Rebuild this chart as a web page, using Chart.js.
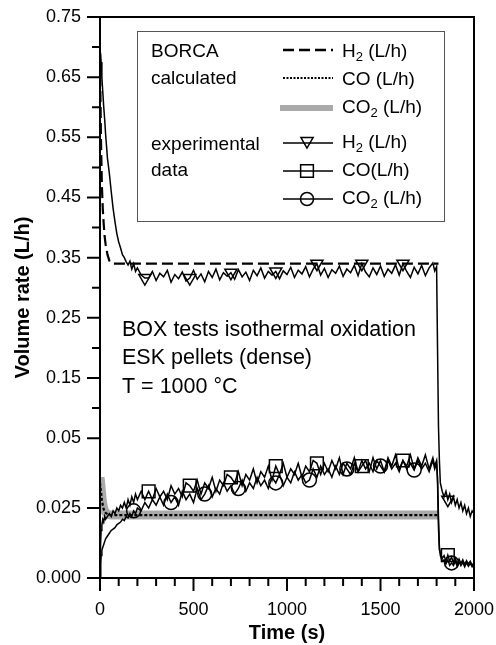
<!DOCTYPE html>
<html lang="en">
<head>
<meta charset="UTF-8">
<title>BOX tests - volume rate</title>
<script src="https://cdn.jsdelivr.net/npm/chart.js"></script>
<style>
  body { margin: 0; background: #fff; }
  canvas { display: block; }
</style>
</head>
<body>
<canvas id="rateChart" width="496" height="645"></canvas>
<script>
// measured points (time in s, rates in L/h)
const expTime = [
  0, 3, 6, 10, 15, 20, 25, 30, 40, 50, 60, 70, 80, 90, 100, 110, 120, 130, 140, 150, 160, 170, 180, 190, 200,
  220, 240, 260, 280, 300, 320, 340, 360, 380, 400, 420, 440, 460, 480, 500, 520, 540, 560, 580, 600,
  620, 640, 660, 680, 700, 720, 740, 760, 780, 800, 820, 840, 860, 880, 900, 920, 940, 960, 980, 1000,
  1020, 1040, 1060, 1080, 1100, 1120, 1140, 1160, 1180, 1200, 1220, 1240, 1260, 1280, 1300, 1320, 1340, 1360, 1380, 1400,
  1420, 1440, 1460, 1480, 1500, 1520, 1540, 1560, 1580, 1600, 1620, 1640, 1660, 1680, 1700, 1720, 1740, 1760, 1780,
  1790, 1800, 1805, 1810, 1815, 1820, 1830, 1840, 1850, 1860, 1870, 1880, 1890, 1900, 1910, 1920, 1930, 1940, 1950, 1960, 1970, 1980, 1990, 2000
];
const expH2 = [
  0.66, 0.69, 0.675, 0.65, 0.625, 0.60, 0.58, 0.555, 0.515, 0.49, 0.46, 0.432, 0.41, 0.39, 0.376, 0.366, 0.355, 0.35, 0.343, 0.338, 0.344, 0.331, 0.340, 0.327, 0.333,
  0.321, 0.316, 0.316, 0.327, 0.312, 0.324, 0.318, 0.329, 0.309, 0.322, 0.315, 0.326, 0.311, 0.316, 0.329, 0.314, 0.323, 0.310, 0.327, 0.317,
  0.331, 0.313, 0.325, 0.319, 0.325, 0.314, 0.330, 0.318, 0.326, 0.312, 0.329, 0.320, 0.333, 0.316, 0.327, 0.321, 0.327, 0.315, 0.328, 0.322,
  0.334, 0.317, 0.329, 0.323, 0.335, 0.318, 0.331, 0.340, 0.321, 0.332, 0.317, 0.330, 0.324, 0.336, 0.319, 0.331, 0.325, 0.337, 0.320, 0.340,
  0.326, 0.318, 0.333, 0.322, 0.336, 0.319, 0.331, 0.324, 0.338, 0.321, 0.340, 0.327, 0.317, 0.334, 0.323, 0.337, 0.320, 0.333, 0.341,
  0.328, 0.335, 0.20, 0.07, 0.042, 0.034, 0.031, 0.029, 0.031, 0.028, 0.030, 0.027, 0.029, 0.026, 0.028, 0.025, 0.027, 0.024, 0.026, 0.023, 0.025, 0.022, 0.024, 0.023
];
const expCO = [
  0.000, 0.012, 0.017, 0.019, 0.021, 0.020, 0.022, 0.021, 0.022, 0.023, 0.022, 0.024, 0.023, 0.025, 0.024, 0.026, 0.025, 0.027, 0.025, 0.028, 0.026, 0.029, 0.027, 0.030, 0.028,
  0.031, 0.028, 0.031, 0.028, 0.032, 0.029, 0.031, 0.028, 0.033, 0.030, 0.032, 0.029, 0.034, 0.033, 0.031, 0.035, 0.030, 0.034, 0.032, 0.036,
  0.031, 0.035, 0.033, 0.037, 0.036, 0.034, 0.038, 0.033, 0.037, 0.035, 0.039, 0.034, 0.038, 0.036, 0.040, 0.035, 0.040, 0.037, 0.041, 0.036,
  0.039, 0.037, 0.041, 0.036, 0.040, 0.038, 0.042, 0.041, 0.037, 0.041, 0.038, 0.042, 0.039, 0.043, 0.037, 0.041, 0.039, 0.043, 0.038, 0.040,
  0.042, 0.038, 0.043, 0.039, 0.042, 0.038, 0.043, 0.040, 0.044, 0.039, 0.042, 0.040, 0.044, 0.039, 0.043, 0.040, 0.044, 0.039, 0.043,
  0.040, 0.042, 0.034, 0.018, 0.010, 0.009, 0.007, 0.008, 0.006, 0.0082, 0.006, 0.0075, 0.0055, 0.007, 0.005, 0.0068, 0.0052, 0.0065, 0.0048, 0.0062, 0.005, 0.006, 0.0045, 0.0055
];
const expCO2 = [
  0.000, 0.005, 0.008, 0.010, 0.011, 0.012, 0.013, 0.014, 0.015, 0.016, 0.017, 0.0175, 0.018, 0.019, 0.0195, 0.020, 0.021, 0.0205, 0.022, 0.0215, 0.023, 0.022, 0.024, 0.023, 0.025,
  0.024, 0.027, 0.025, 0.028, 0.026, 0.029, 0.026, 0.030, 0.027, 0.029, 0.026, 0.031, 0.028, 0.030, 0.027, 0.032, 0.028, 0.030, 0.033, 0.029,
  0.032, 0.030, 0.034, 0.031, 0.033, 0.030, 0.032, 0.035, 0.031, 0.034, 0.032, 0.036, 0.033, 0.035, 0.032, 0.036, 0.034, 0.037, 0.033, 0.036,
  0.034, 0.038, 0.035, 0.037, 0.034, 0.035, 0.039, 0.036, 0.040, 0.037, 0.039, 0.036, 0.040, 0.037, 0.041, 0.039, 0.037, 0.041, 0.038, 0.042,
  0.039, 0.041, 0.038, 0.042, 0.040, 0.038, 0.042, 0.039, 0.041, 0.038, 0.042, 0.039, 0.041, 0.0386, 0.042, 0.039, 0.041, 0.038, 0.042,
  0.039, 0.041, 0.036, 0.022, 0.011, 0.008, 0.006, 0.0065, 0.005, 0.0065, 0.0045, 0.0054, 0.0045, 0.006, 0.0042, 0.0058, 0.0044, 0.0056, 0.004, 0.0055, 0.0042, 0.0052, 0.004, 0.005
];
// times where the symbols are drawn on the measured curves
const h2Marks = [240, 480, 700, 940, 1160, 1400, 1620, 1860];
const coMarks = [260, 480, 700, 940, 1160, 1400, 1620, 1860];
const co2Marks = [180, 380, 560, 740, 940, 1120, 1320, 1500, 1680, 1880];

// BORCA calculation
const calcTime = [0, 5, 10, 15, 20, 25, 30, 40, 50, 60, 70, 80, 100, 300, 600, 1000, 1400, 1810];
const calcH2 = [0.68, 0.55, 0.47, 0.43, 0.405, 0.385, 0.372, 0.355, 0.345, 0.341, 0.340, 0.340, 0.340, 0.340, 0.340, 0.340, 0.340, 0.340];
const calcCO = [0.034, 0.031, 0.028, 0.026, 0.0245, 0.0238, 0.0233, 0.0228, 0.0226, 0.0225, 0.0225, 0.0225, 0.0225, 0.0225, 0.0225, 0.0225, 0.0225, 0.0225];
const calcCO2 = [0.036, 0.033, 0.029, 0.0265, 0.025, 0.024, 0.0235, 0.0229, 0.0226, 0.0225, 0.0225, 0.0225, 0.0225, 0.0225, 0.0225, 0.0225, 0.0225, 0.0225];

// axes
const xTickValues = [0, 500, 1000, 1500, 2000];
const xMinorValues = [100, 200, 300, 400, 600, 700, 800, 900, 1100, 1200, 1300, 1400, 1600, 1700, 1800, 1900];
const yTickValues = [0, 0.025, 0.05, 0.15, 0.25, 0.35, 0.45, 0.55, 0.65, 0.75];
const yTickLabels = ['0.000', '0.025', '0.05', '0.15', '0.25', '0.35', '0.45', '0.55', '0.65', '0.75'];
const yMinorValues = [0.1, 0.2, 0.3, 0.4, 0.5, 0.6, 0.7];

const legendCalcLabels = ['H_2 (L/h)', 'CO (L/h)', 'CO_2 (L/h)'];
const legendExpLabels = ['H_2 (L/h)', 'CO(L/h)', 'CO_2 (L/h)'];
const noteLines = ['BOX tests isothermal oxidation', 'ESK pellets (dense)', 'T = 1000 °C'];

// the y axis is broken at 0.05: the part below is drawn stretched
const BREAK = 0.05;
const STRETCH = 4.65;
function toAxis(v) {
  return v <= BREAK ? v * STRETCH : BREAK * STRETCH + (v - BREAK);
}

const FONT = "'Liberation Sans', Arial, Helvetica, sans-serif";
Chart.defaults.font.family = FONT;
Chart.defaults.color = '#000';

function series(times, values) {
  return times.map((t, i) => ({ x: t, y: toAxis(values[i]) }));
}
function markerRadius(times, marks, r) {
  return ctx => marks.includes(times[ctx.dataIndex]) ? r : 0;
}

// text with "_2" style subscripts
function drawRich(ctx, text, x, y, size) {
  text.split(/(_\d)/).forEach(part => {
    if (!part) return;
    if (part[0] === '_') {
      ctx.font = Math.round(size * 0.68) + 'px ' + FONT;
      ctx.fillText(part.slice(1), x, y + size * 0.3);
      x += ctx.measureText(part.slice(1)).width;
    } else {
      ctx.font = size + 'px ' + FONT;
      ctx.fillText(part, x, y);
      x += ctx.measureText(part).width;
    }
  });
}

const framePlugin = {
  id: 'frame',
  afterDatasetsDraw(chart) {
    const { ctx, chartArea: a, scales: { x, y } } = chart;
    ctx.save();
    ctx.strokeStyle = '#000';
    ctx.lineWidth = 2;
    ctx.strokeRect(a.left, a.top, a.right - a.left, a.bottom - a.top);
    ctx.beginPath();
    xTickValues.forEach(v => { const px = x.getPixelForValue(v); ctx.moveTo(px, a.bottom); ctx.lineTo(px, a.bottom + 13); });
    xMinorValues.forEach(v => { const px = x.getPixelForValue(v); ctx.moveTo(px, a.bottom); ctx.lineTo(px, a.bottom + 8); });
    yTickValues.forEach(v => { const py = y.getPixelForValue(toAxis(v)); ctx.moveTo(a.left, py); ctx.lineTo(a.left - 13, py); });
    yMinorValues.forEach(v => { const py = y.getPixelForValue(toAxis(v)); ctx.moveTo(a.left, py); ctx.lineTo(a.left - 8, py); });
    ctx.stroke();
    ctx.restore();
  }
};

const boxLegendPlugin = {
  id: 'boxLegend',
  afterDraw(chart) {
    const ctx = chart.ctx;
    ctx.save();
    ctx.strokeStyle = '#555';
    ctx.lineWidth = 1;
    ctx.strokeRect(137.5, 31.5, 307, 190);

    ctx.fillStyle = '#000';
    ctx.textBaseline = 'middle';
    ctx.font = '19px ' + FONT;
    ctx.fillText('BORCA', 151, 52);
    ctx.fillText('calculated', 151, 79);
    ctx.fillText('experimental', 151, 145);
    ctx.fillText('data', 151, 171);

    const calcRows = [52, 80, 108];
    const expRows = [143, 171, 199];
    calcRows.forEach((ry, i) => drawRich(ctx, legendCalcLabels[i], 342, ry, 19));
    expRows.forEach((ry, i) => drawRich(ctx, legendExpLabels[i], 342, ry, 19));

    // calculated samples
    ctx.strokeStyle = '#000';
    ctx.lineWidth = 2.4;
    ctx.setLineDash([11, 5]);
    ctx.beginPath(); ctx.moveTo(283, 50); ctx.lineTo(333, 50); ctx.stroke();
    ctx.lineWidth = 2;
    ctx.setLineDash([2, 1.5]);
    ctx.beginPath(); ctx.moveTo(283, 78); ctx.lineTo(333, 78); ctx.stroke();
    ctx.setLineDash([]);
    ctx.strokeStyle = '#aaaaaa';
    ctx.lineWidth = 6;
    ctx.beginPath(); ctx.moveTo(280, 108); ctx.lineTo(333, 108); ctx.stroke();

    // measured samples
    ctx.strokeStyle = '#000';
    ctx.lineWidth = 1.5;
    expRows.forEach(ry => { ctx.beginPath(); ctx.moveTo(283, ry); ctx.lineTo(333, ry); ctx.stroke(); });
    ctx.fillStyle = 'rgba(0,0,0,0)';
    Chart.helpers.drawPoint(ctx, { pointStyle: 'triangle', radius: 7, rotation: 180, borderWidth: 1.5 }, 307, 141);
    Chart.helpers.drawPoint(ctx, { pointStyle: 'rect', radius: 9, rotation: 0, borderWidth: 1.5 }, 307, 171);
    Chart.helpers.drawPoint(ctx, { pointStyle: 'circle', radius: 6.5, rotation: 0, borderWidth: 1.5 }, 307, 199);

    // test description
    ctx.fillStyle = '#000';
    ctx.font = '21.5px ' + FONT;
    noteLines.forEach((line, i) => ctx.fillText(line, 122, 330 + i * 28.5));
    ctx.restore();
  }
};

const expStyle = {
  borderColor: '#000',
  borderWidth: 1.5,
  pointBorderColor: '#000',
  pointBackgroundColor: 'rgba(0,0,0,0)',
  pointBorderWidth: 1.5,
  tension: 0
};

new Chart(document.getElementById('rateChart'), {
  type: 'line',
  data: {
    datasets: [
      Object.assign({ label: 'H2 exp', data: series(expTime, expH2), pointStyle: 'triangle', pointRotation: 180,
        pointRadius: markerRadius(expTime, h2Marks, 7) }, expStyle),
      Object.assign({ label: 'CO exp', data: series(expTime, expCO), pointStyle: 'rect',
        pointRadius: markerRadius(expTime, coMarks, 9) }, expStyle),
      Object.assign({ label: 'CO2 exp', data: series(expTime, expCO2), pointStyle: 'circle',
        pointRadius: markerRadius(expTime, co2Marks, 7) }, expStyle),
      { label: 'H2 calc', data: series(calcTime, calcH2), borderColor: '#000', borderWidth: 2.2,
        borderDash: [11, 5], pointRadius: 0, tension: 0 },
      { label: 'CO calc', data: series(calcTime, calcCO), borderColor: '#000', borderWidth: 2.2,
        borderDash: [3, 2], pointRadius: 0, tension: 0 },
      { label: 'CO2 calc', data: series(calcTime, calcCO2), borderColor: '#aaaaaa', borderWidth: 9,
        borderCapStyle: 'butt', borderJoinStyle: 'round', pointRadius: 0, tension: 0.2 }
    ]
  },
  options: {
    responsive: false,
    devicePixelRatio: 1,
    animation: false,
    events: [],
    layout: { padding: { top: 17, right: 22, left: 0, bottom: 0 } },
    plugins: { legend: { display: false }, tooltip: { enabled: false } },
    scales: {
      x: {
        type: 'linear', min: 0, max: 2000,
        afterFit(s) { s.height = 67; s.paddingLeft = 0; s.paddingRight = 0; },
        grid: { display: false, drawTicks: false },
        border: { display: false },
        ticks: { stepSize: 500, autoSkip: false, maxRotation: 0, padding: 21, font: { size: 18 },
          callback: v => String(v) },
        title: { display: true, text: 'Time (s)', font: { size: 20, weight: 'bold' }, padding: { top: 0, bottom: 0 } }
      },
      y: {
        type: 'linear', min: 0, max: toAxis(0.75),
        afterFit(s) { s.width = 100; s.paddingTop = 0; s.paddingBottom = 0; },
        afterBuildTicks(s) { s.ticks = yTickValues.map(v => ({ value: toAxis(v) })); },
        grid: { display: false, drawTicks: false },
        border: { display: false },
        ticks: { autoSkip: false, padding: 19, font: { size: 18 }, callback: (v, i) => yTickLabels[i] },
        title: { display: true, text: 'Volume rate (L/h)', font: { size: 20, weight: 'bold' }, padding: { top: 11, bottom: 0 } }
      }
    }
  },
  plugins: [framePlugin, boxLegendPlugin]
});
</script>
</body>
</html>
